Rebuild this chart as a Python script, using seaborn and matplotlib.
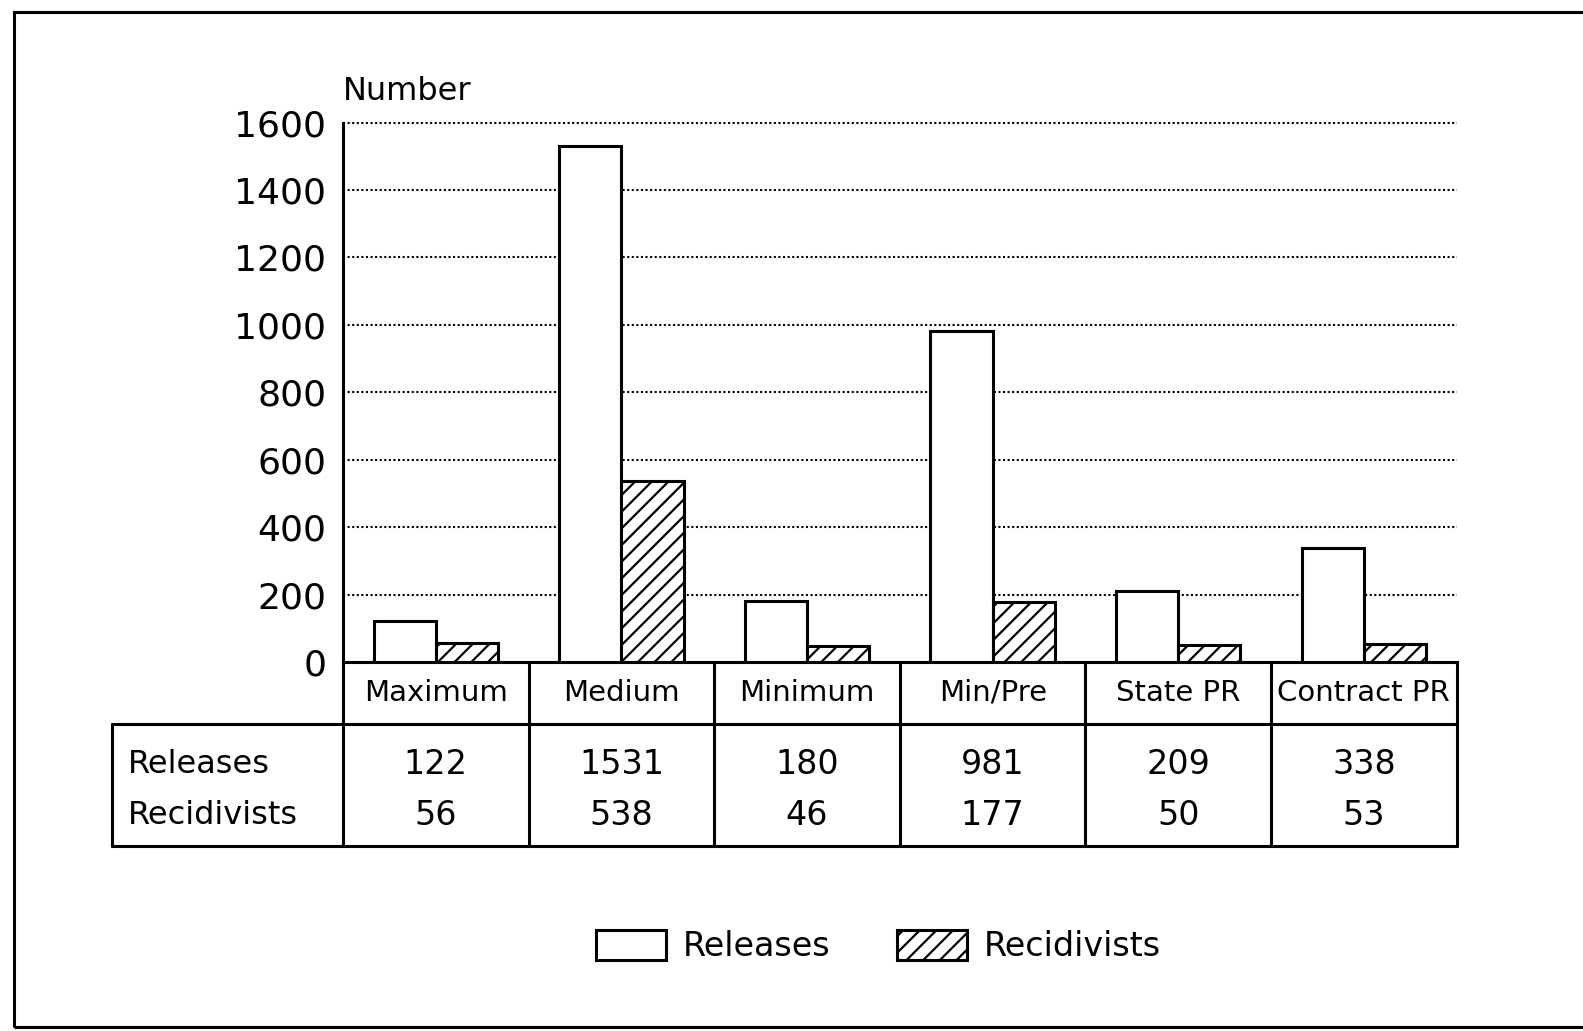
import pandas as pd
import matplotlib
matplotlib.use("Agg")
import matplotlib.pyplot as plt
import seaborn as sns
from matplotlib.patches import Patch, Rectangle

# --- Datos ---
categorias = ["Maximum", "Medium", "Minimum", "Min/Pre", "State PR", "Contract PR"]
releases = [122, 1531, 180, 981, 209, 338]
recidivists = [56, 538, 46, 177, 50, 53]
series = ["Releases", "Recidivists"]
yticks = [0, 200, 400, 600, 800, 1000, 1200, 1400, 1600]

df = pd.DataFrame({
    "categoria": categorias * 2,
    "serie": [series[0]] * len(categorias) + [series[1]] * len(categorias),
    "numero": releases + recidivists,
})

sns.set_style("white")
plt.rcParams["font.family"] = ["DejaVu Sans"]
plt.rcParams["text.color"] = "black"
plt.rcParams["ytick.color"] = "black"
plt.rcParams["xtick.color"] = "black"
plt.rcParams["hatch.linewidth"] = 1.6

fig = plt.figure(figsize=(15.83, 10.31), dpi=100)
ax = fig.add_axes([0.2167, 0.358, 0.7035, 0.523])

sns.barplot(data=df, x="categoria", y="numero", hue="serie", hue_order=series,
            palette=["white", "white"], edgecolor="black", linewidth=2.2,
            width=0.67, gap=0, legend=False, ax=ax, zorder=3)
for barra in ax.containers[1]:
    barra.set_hatch("//")

ax.set_xlim(-0.5, len(categorias) - 0.5)
ax.set_ylim(0, 1600)
ax.set_yticks(yticks)
ax.set_yticklabels([str(v) for v in yticks], fontsize=26)
ax.set_xticks([])
ax.set_xlabel("")
ax.set_ylabel("")
ax.tick_params(axis="y", length=0, pad=12)
ax.yaxis.grid(True, linestyle=(0, (1, 1.2)), color="black", linewidth=1.5)
for linea in ax.get_ygridlines():
    linea.set_clip_on(False)
ax.set_axisbelow(True)
for lado in ["top", "right"]:
    ax.spines[lado].set_visible(False)
ax.spines["left"].set_linewidth(2.2)
ax.spines["left"].set_color("black")
ax.spines["bottom"].set_linewidth(2.2)
ax.spines["bottom"].set_color("black")

ax.text(0.0, 1.03, "Number", transform=ax.transAxes, fontsize=23,
        ha="left", va="bottom")

# --- Tabla debajo del grafico ---
tr = ax.get_xaxis_transform()
n = len(categorias)
y_cab = -0.115
y_fin = -0.341
x_izq = -1.744
kw = dict(color="black", linewidth=2.2, transform=tr, clip_on=False)
ax.plot([x_izq, n - 0.5], [y_cab, y_cab], **kw)
ax.plot([x_izq, n - 0.5], [y_fin, y_fin], **kw)
ax.plot([x_izq, x_izq], [y_cab, y_fin], **kw)
for i in range(n + 1):
    ax.plot([i - 0.5, i - 0.5], [0, y_fin], **kw)

for i, cat in enumerate(categorias):
    ax.text(i, y_cab / 2, cat, transform=tr, ha="center", va="center", fontsize=21)
    ax.text(i, -0.19, str(releases[i]), transform=tr, ha="center", va="center", fontsize=24)
    ax.text(i, -0.285, str(recidivists[i]), transform=tr, ha="center", va="center", fontsize=24)
ax.text(-1.658, -0.19, series[0], transform=tr, ha="left", va="center", fontsize=23)
ax.text(-1.658, -0.285, series[1], transform=tr, ha="left", va="center", fontsize=23)

# --- Leyenda ---
handles = [Patch(facecolor="white", edgecolor="black", linewidth=2.2, label=series[0]),
           Patch(facecolor="white", edgecolor="black", linewidth=2.2, hatch="//", label=series[1])]
fig.legend(handles=handles, loc="center", bbox_to_anchor=(0.555, 0.082), ncol=2,
           frameon=False, fontsize=24, handlelength=2.1, handleheight=1.05,
           columnspacing=2.0, handletextpad=0.5)

# --- Marco exterior ---
fig.add_artist(Rectangle((0.009, 0.004), 1.2, 0.984, transform=fig.transFigure,
                         fill=False, edgecolor="black", linewidth=2.2))

fig.savefig("out.png", dpi=100)
